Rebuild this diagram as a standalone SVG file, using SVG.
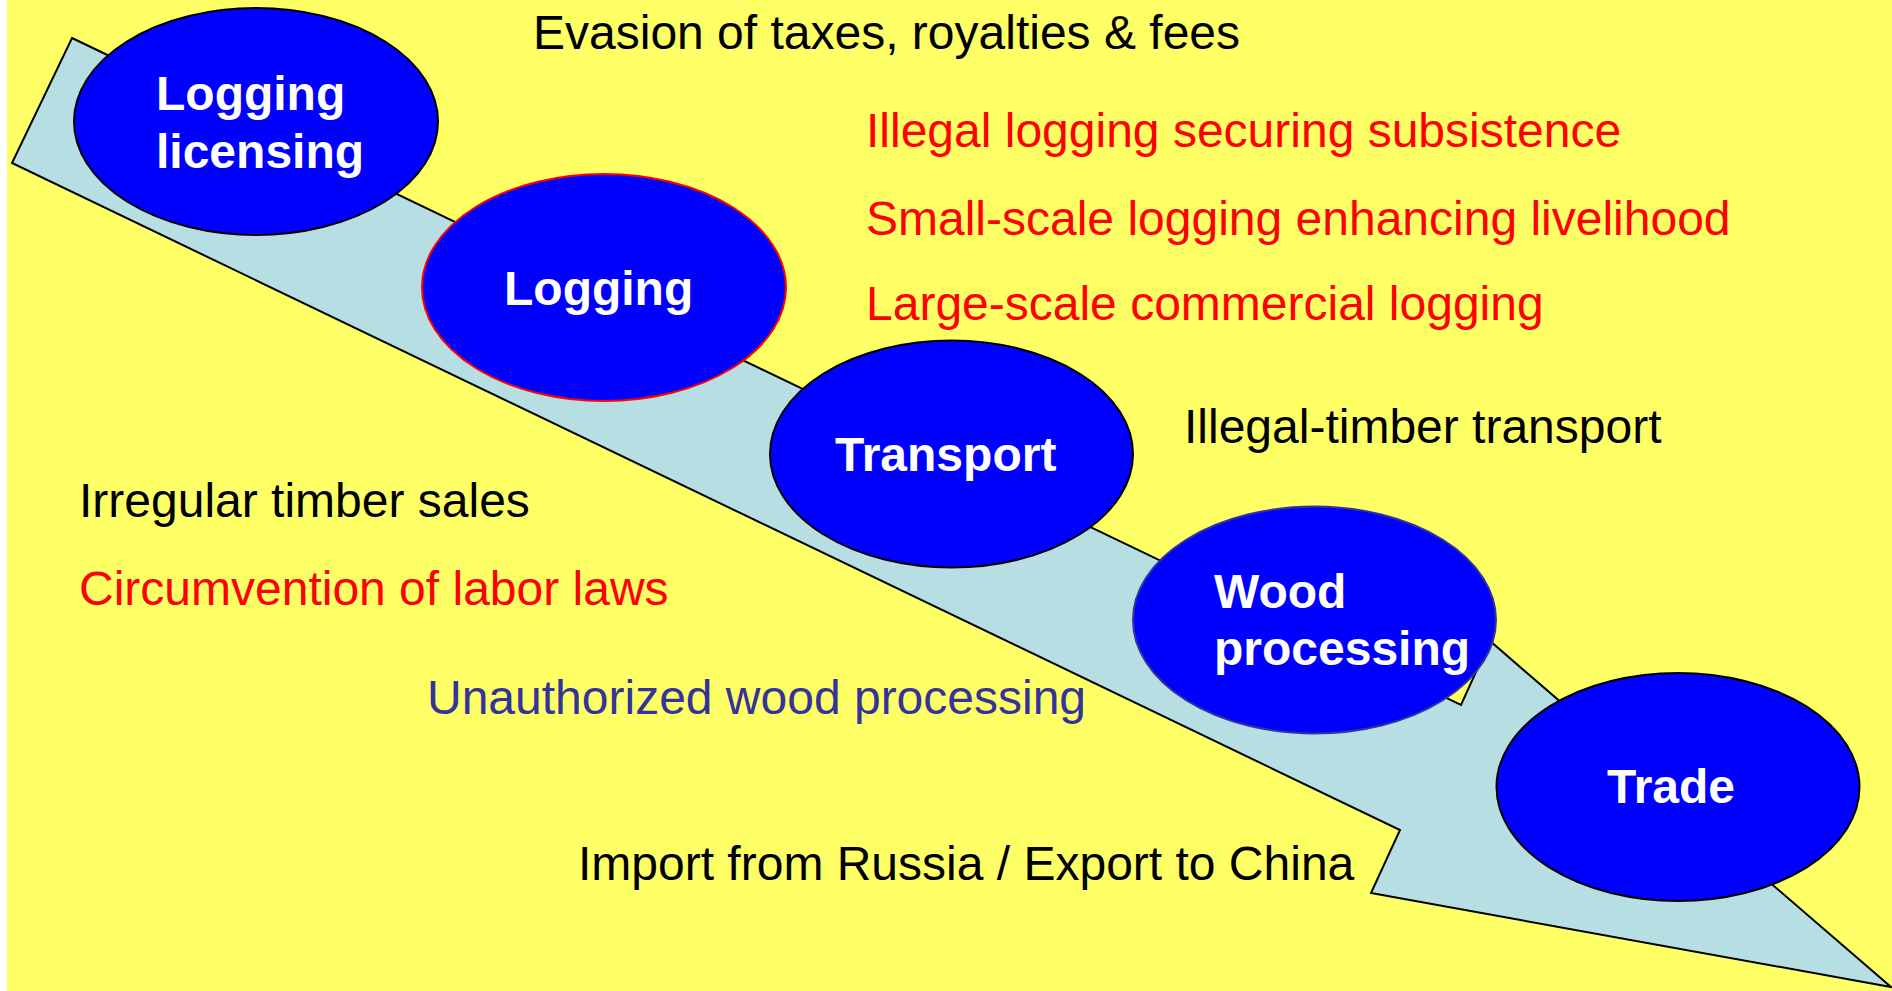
<svg xmlns="http://www.w3.org/2000/svg" width="1892" height="991" viewBox="0 0 1892 991">
<style>
.lbl{font-family:"Liberation Sans",Arial,sans-serif;font-size:48px;}
.node{font-family:"Liberation Sans",Arial,sans-serif;font-size:48px;font-weight:bold;fill:#FFFFFF;}
.ell{fill:#0000FF;stroke-width:2;}
.black{fill:#000000;}
.red{fill:#FF0000;}
.navy{fill:#333399;}
</style>
<rect x="0" y="0" width="1892" height="991" fill="#FFFFFF"/>
<rect x="7" y="0" width="1885" height="991" fill="#FFFF66"/>
<g id="connectors">
<polygon points="72,38 1461,705 1490,641 1891,987 1371,893 1400,830 12,163" fill="#B7DEE2" stroke="#000000" stroke-width="2" stroke-linejoin="miter"/>
</g>
<g id="node-logging-licensing">
<ellipse class="ell" cx="256" cy="121.5" rx="182" ry="113.5" stroke="#000000"/>
<text class="node" x="156" y="110">Logging</text>
<text class="node" x="156" y="168">licensing</text>
</g>
<g id="node-logging">
<ellipse class="ell" cx="604" cy="287.5" rx="182" ry="113.5" stroke="#FF0000"/>
<text class="node" x="504" y="305">Logging</text>
</g>
<g id="node-transport">
<ellipse class="ell" cx="951.5" cy="454" rx="181.5" ry="113.5" stroke="#000000"/>
<text class="node" x="835" y="471">Transport</text>
</g>
<g id="node-wood-processing">
<ellipse class="ell" cx="1314.5" cy="620" rx="181.5" ry="113.5" stroke="#333399"/>
<text class="node" x="1214" y="608">Wood</text>
<text class="node" x="1214" y="665">processing</text>
</g>
<g id="node-trade">
<ellipse class="ell" cx="1678" cy="787" rx="181.5" ry="114" stroke="#000000"/>
<text class="node" x="1607" y="803">Trade</text>
</g>
<g id="labels">
<text class="lbl black" x="533" y="49">Evasion of taxes, royalties &amp; fees</text>
<text class="lbl red" x="866" y="147">Illegal logging securing subsistence</text>
<text class="lbl red" x="866" y="235">Small-scale logging enhancing livelihood</text>
<text class="lbl red" x="866" y="320">Large-scale commercial logging</text>
<text class="lbl black" x="1184" y="443">Illegal-timber transport</text>
<text class="lbl black" x="79" y="517">Irregular timber sales</text>
<text class="lbl red" x="79" y="605">Circumvention of labor laws</text>
<text class="lbl navy" x="427" y="714">Unauthorized wood processing</text>
<text class="lbl black" x="578" y="880">Import from Russia / Export to China</text>
</g>
</svg>
